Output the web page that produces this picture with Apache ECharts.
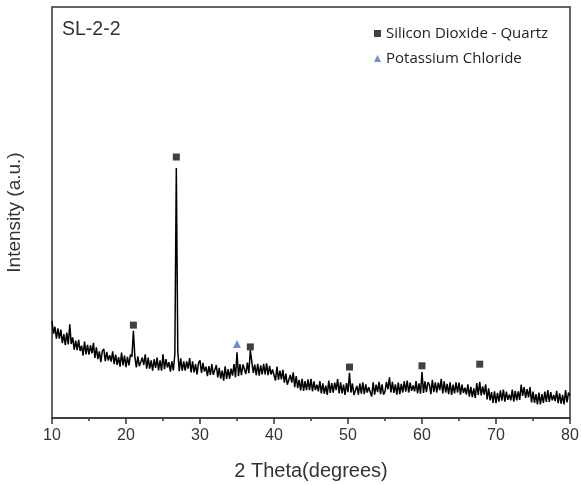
<!DOCTYPE html>
<html>
<head>
<meta charset="utf-8">
<script src="https://cdn.jsdelivr.net/npm/echarts@6/dist/echarts.min.js"></script>
<style>html,body{margin:0;padding:0;background:#fff}#c{width:581px;height:485px}</style>
</head>
<body>
<div id="c"></div>
<script>
// 2θ from 10 to 80 in 0.2° steps
const twoThetaStart = 10;
const twoThetaStep = 0.2;
const intensity = [
23.6,20.5,22.2,19.3,21.8,
19.3,21.5,18.2,20.4,17.7,
20.8,17.9,22.8,18.0,19.6,
16.6,18.8,16.5,19.0,16.3,
17.6,15.2,18.6,15.5,17.8,
15.4,17.7,15.7,18.3,14.6,
17.2,14.3,16.2,13.6,16.3,
16.8,13.8,16.1,14.0,15.3,
13.7,16.2,13.1,15.4,12.9,
14.8,12.5,15.9,12.8,15.2,
12.4,14.9,12.8,15.4,14.9,
21.2,14.8,12.3,15.0,12.6,
12.4,14.7,12.9,15.5,12.0,
14.7,12.0,14.0,11.5,14.3,
12.2,14.7,11.6,14.0,11.5,
15.5,11.9,14.3,12.3,13.6,
11.3,13.8,11.6,15.5,60.8,
16.2,11.4,14.5,11.5,13.8,
11.5,13.8,12.0,14.6,11.1,
13.8,11.1,13.1,10.6,13.4,
14.0,11.0,13.4,11.3,12.5,
10.2,12.6,10.5,13.1,10.5,
10.5,12.9,9.9,12.2,9.6,
11.5,9.1,12.6,9.5,11.9,
9.6,12.0,10.3,13.1,9.9,
16.0,10.2,13.1,10.4,13.0,
13.4,10.7,13.5,10.9,16.5,
13.7,11.0,13.0,10.4,13.2,
10.3,12.8,10.6,13.2,10.6,
13.3,10.4,12.7,10.6,11.8,
11.6,9.1,12.5,9.3,11.5,
9.4,11.7,8.6,10.8,8.1,
8.3,10.5,8.6,11.1,7.5,
10.2,7.3,9.3,6.7,9.5,
6.6,9.0,6.8,9.4,6.8,
9.5,6.5,8.9,6.8,8.1,
6.5,9.0,6.0,8.4,5.9,
7.9,5.6,9.1,6.1,8.5,
6.2,8.6,6.8,9.5,6.0,
8.7,6.0,8.1,5.6,8.5,
6.3,11.0,6.2,8.4,5.6,
5.3,7.8,5.7,8.4,5.9,
8.7,5.8,8.2,6.2,7.5,
7.5,5.2,8.7,5.7,8.1,
6.3,8.8,5.8,8.2,5.7,
6.4,8.8,7.0,9.9,6.2,
8.8,6.1,8.2,5.7,8.6,
5.8,8.3,6.2,8.9,6.4,
9.1,6.2,8.6,6.6,7.9,
6.5,9.0,6.0,8.4,5.9,
11.2,6.1,8.9,6.3,8.7,
8.1,5.8,9.3,6.3,8.7,
6.2,8.6,6.8,9.5,6.0,
8.9,6.2,8.3,5.8,8.7,
5.6,8.1,6.0,8.7,6.2,
8.6,5.7,8.1,6.1,7.4,
5.7,8.2,5.2,7.6,5.1,
7.2,4.9,8.5,5.6,8.8,
5.5,7.7,5.7,8.2,4.5,
7.2,4.3,6.3,3.7,6.5,
3.6,6.1,4.0,6.7,4.2,
6.9,4.0,6.4,4.4,5.7,
4.3,6.9,4.0,6.6,4.3,
6.5,4.4,8.1,5.4,7.5,
4.9,7.0,5.0,7.5,3.8,
6.4,3.7,5.8,3.3,6.2,
3.3,5.8,3.7,6.4,3.9,
6.8,3.9,6.3,4.3,5.6,
4.1,6.6,3.6,6.0,3.5,
5.6,3.3,6.8,3.8,6.2,
5.4
];
// Peak markers [2θ, marker height]
const quartzMarks = [[21.0,22.6],[26.8,63.5],[36.8,17.3],[50.2,12.4],[60.0,12.7],[67.8,13.1]];
const kclMarks = [[35.0,18.0]];
const xTicks = [10,20,30,40,50,60,70,80];

const pattern = intensity.map((v,i)=>[+(twoThetaStart + i*twoThetaStep).toFixed(1), v]);

const chart = echarts.init(document.getElementById('c'), null, {renderer:'canvas'});
chart.setOption({
  animation:false,
  backgroundColor:'#fff',
  grid:{left:52,right:11,top:7,bottom:67,containLabel:false,outerBoundsMode:'none',show:true,borderColor:'#333',borderWidth:1.5,backgroundColor:'transparent'},
  legend:{
    orient:'vertical', left:369, top:21, itemWidth:7, itemHeight:7, itemGap:10,
    data:[{name:'Silicon Dioxide - Quartz',icon:'rect'},{name:'Potassium Chloride',icon:'triangle'}],
    textStyle:{fontFamily:'Open Sans',fontSize:15,color:'#222'}
  },
  graphic:[{type:'text',left:62,top:20,style:{text:'SL-2-2',fontFamily:'Liberation Sans',fontSize:19.5,fill:'#333'}}],
  xAxis:{
    type:'value',min:10,max:80,interval:10,
    name:'2 Theta(degrees)',nameLocation:'middle',nameGap:43,
    nameTextStyle:{fontFamily:'Liberation Sans',fontSize:20,color:'#333'},
    axisLine:{show:true,lineStyle:{color:'#333',width:1.5}},
    axisTick:{show:true,length:6,lineStyle:{color:'#333',width:1.5}},
    minorTick:{show:true,splitNumber:2,length:3,lineStyle:{color:'#333',width:1.5}},
    axisLabel:{fontFamily:'Liberation Sans',fontSize:16,color:'#333',margin:10,formatter:v=>xTicks.includes(v)?String(v):''},
    splitLine:{show:false}
  },
  yAxis:{
    type:'value',min:0,max:100,
    name:'Intensity (a.u.)',nameLocation:'middle',nameGap:28,nameRotate:90,
    nameTextStyle:{fontFamily:'Liberation Sans',fontSize:19,color:'#333'},
    axisLine:{show:false},axisTick:{show:false},axisLabel:{show:false},splitLine:{show:false}
  },
  series:[
    {type:'line',data:pattern,symbol:'none',lineStyle:{color:'#000',width:1.5},z:2,silent:true},
    {type:'scatter',name:'Silicon Dioxide - Quartz',data:quartzMarks,symbol:'rect',symbolSize:7,itemStyle:{color:'#111'},z:3},
    {type:'scatter',name:'Potassium Chloride',data:kclMarks,symbol:'triangle',symbolSize:8,itemStyle:{color:'#4a72c8'},z:3}
  ]
});
</script>
</body>
</html>
